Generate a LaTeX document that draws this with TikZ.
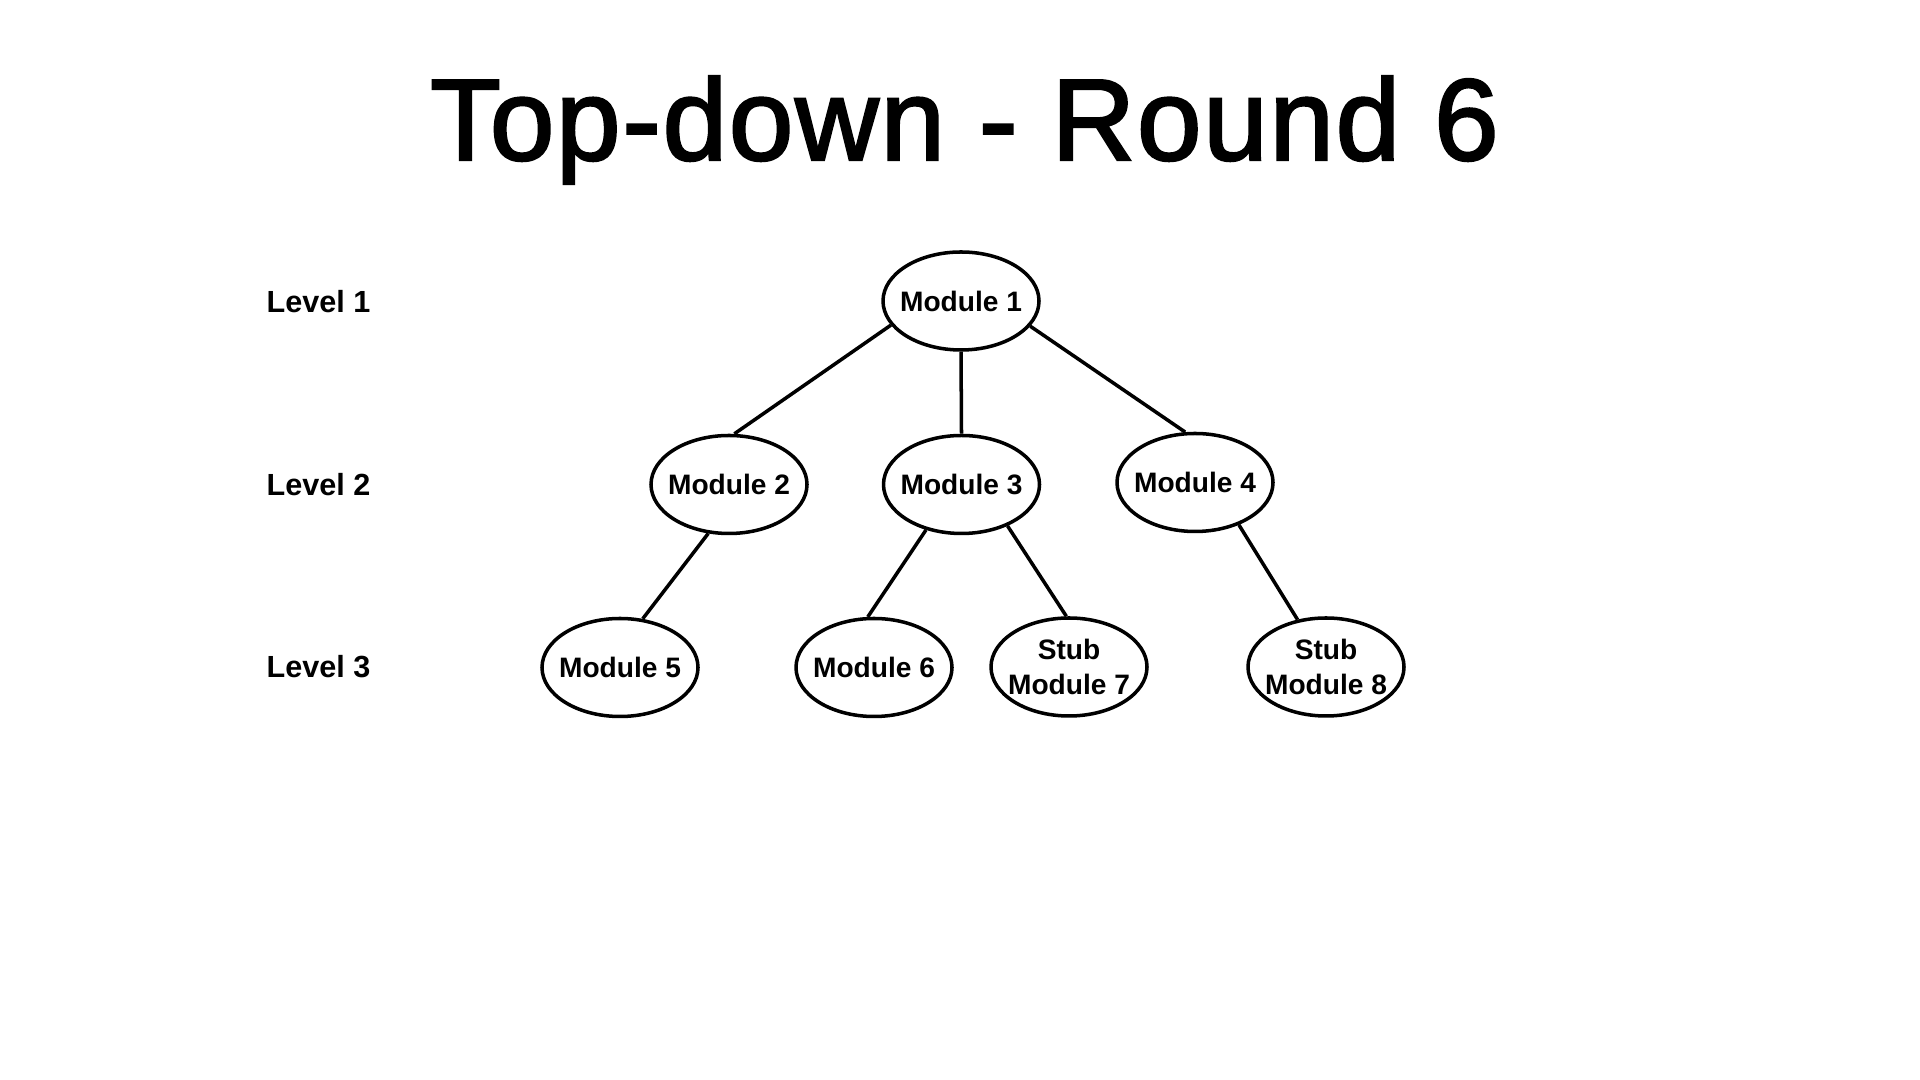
\documentclass[tikz,border=0pt]{standalone}
\usepackage{fontspec}
\setmainfont{Liberation Sans}
\usetikzlibrary{shapes.geometric}

\begin{document}
\begin{tikzpicture}[
	module/.style={draw,ellipse,line width=1pt,minimum width=1.56cm,minimum height=0.98cm,inner xsep=-0.15cm,inner ysep=0pt,align=center,font=\fontsize{8}{10}\selectfont\bfseries},
	level/.style={anchor=west,inner sep=0pt,font=\fontsize{8.7}{10}\selectfont\bfseries},
	edge/.style={line width=1pt}
]
	\useasboundingbox (0,0) rectangle (19.2,10.8);

	\node[anchor=base,inner sep=0pt,font=\fontsize{33}{38}\selectfont\addfontfeature{LetterSpace=1.5,FakeBold=2}] (title) at (9.645,9.2) {Top-down - Round 6};

	\node[level] (lvl1) at (2.66,7.78) {Level 1};
	\node[level] (lvl2) at (2.66,5.955) {Level 2};
	\node[level] (lvl3) at (2.66,4.13) {Level 3};

	\node[module] (m1) at (9.61,7.79) {Module 1};
	\node[module] (m2) at (7.29,5.955) {Module 2};
	\node[module] (m3) at (9.615,5.955) {Module 3};
	\node[module] (m4) at (11.95,5.975) {Module 4};
	\node[module] (m5) at (6.20,4.125) {Module 5};
	\node[module] (m6) at (8.74,4.125) {Module 6};
	\node[module] (m7) at (10.69,4.13) {Stub\\Module 7};
	\node[module] (m8) at (13.26,4.13) {Stub\\Module 8};

	\draw[edge] (m1.199) -- (m2.84);
	\draw[edge] (m1.south) -- (m3.north);
	\draw[edge] (m1.340) -- (m4.101);
	\draw[edge] (m2.247) -- (m5.65);
	\draw[edge] (m3.232) -- (m6.97);
	\draw[edge] (m3.318) -- (m7.93);
	\draw[edge] (m4.316) -- (m8.121);
\end{tikzpicture}
\end{document}
